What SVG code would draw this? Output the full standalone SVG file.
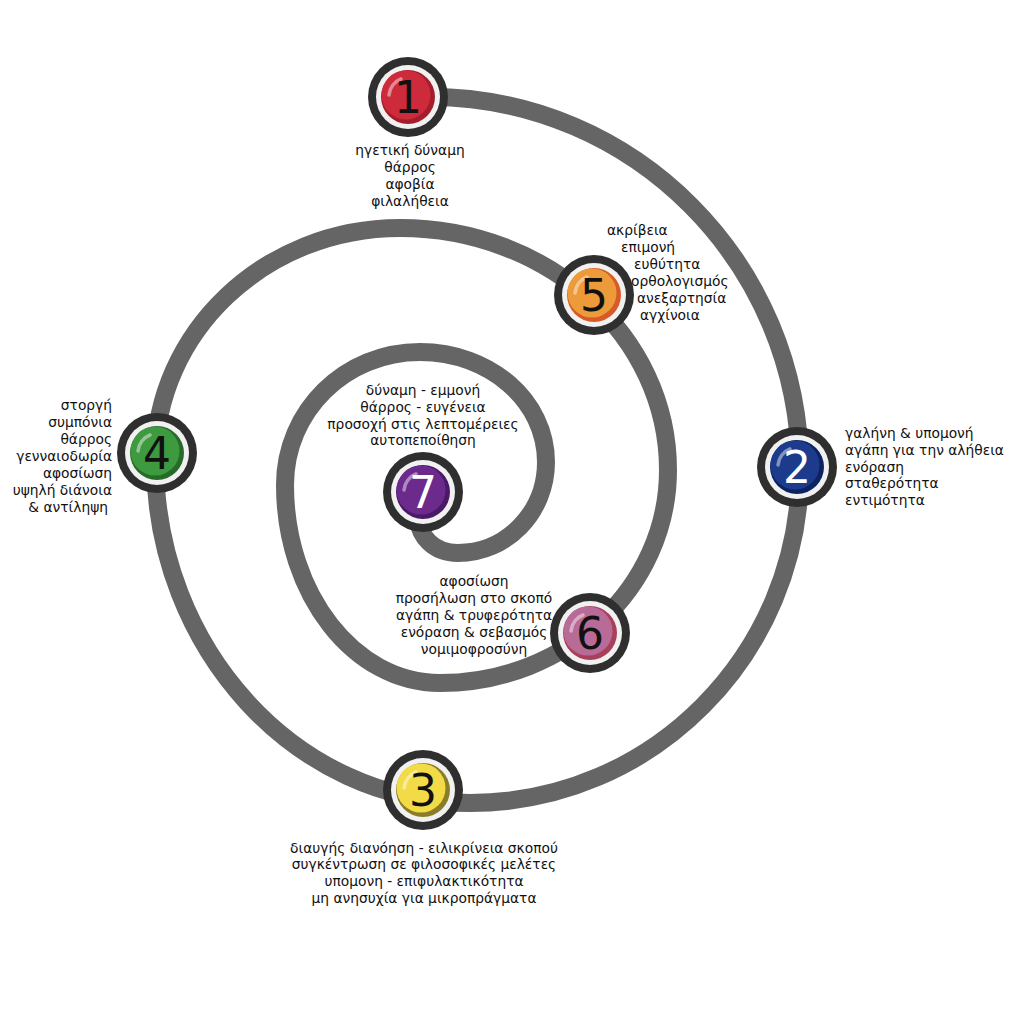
<svg xmlns="http://www.w3.org/2000/svg" width="1015" height="1015" viewBox="0 0 1015 1015">
<style>
.spiral{fill:none;stroke:#656565;stroke-width:18;stroke-linecap:round;stroke-linejoin:round}
.ring{fill:#2f2f2f}
.inner{fill:#f1f1f1}
.hl{fill:none;stroke:#ffffff;stroke-opacity:0.45;stroke-width:3.5;stroke-linecap:round}
.num{font-family:"DejaVu Sans",sans-serif;font-size:44px;text-anchor:middle}
.lbl{font-family:"DejaVu Sans",sans-serif;font-size:13.8px;fill:#111}
.c{text-anchor:middle}
.r{text-anchor:end}
</style>
<rect width="1015" height="1015" fill="#ffffff"/>
<g id="connectors">
<path class="spiral" d="M408 97 L430 97 C634 97 800 264 800 470 C800 654 652 803 470 803 C296 803 155 649 155 460 C155 332 265 228 400 228 C548 228 668 336 668 470 C668 588 566 683 440 683 C354 683 285 594 285 485 C285 411 345 352 420 352 C490 352 546 401 546 462 C546 512 507 553 458 553 C432 553 420 535 418 520"/>
</g>
<g id="node-1" transform="translate(408 97)">
<circle class="ring" r="40"/><circle class="inner" r="32"/>
<circle r="27" fill="#a31d2b"/><circle cx="-2" cy="-2" r="24.5" fill="#cd2a3b"/>
<path class="hl" d="M-19 -2 A19 19 0 0 1 -7 -18"/>
<text class="num" y="16" fill="#111">1</text>
</g>
<g id="node-2" transform="translate(797 467)">
<circle class="ring" r="40"/><circle class="inner" r="32"/>
<circle r="27" fill="#0d2361"/><circle cx="-2" cy="-2" r="24.5" fill="#1c3b8c"/>
<path class="hl" d="M-19 -2 A19 19 0 0 1 -7 -18"/>
<text class="num" y="16" fill="#ffffff">2</text>
</g>
<g id="node-3" transform="translate(423 790)">
<circle class="ring" r="40"/><circle class="inner" r="32"/>
<circle r="27" fill="#8a7d28"/><circle cx="-2" cy="-2" r="24.5" fill="#f2db46"/>
<path class="hl" d="M-19 -2 A19 19 0 0 1 -7 -18"/>
<text class="num" y="16" fill="#111">3</text>
</g>
<g id="node-4" transform="translate(157 453)">
<circle class="ring" r="40"/><circle class="inner" r="32"/>
<circle r="27" fill="#276b2a"/><circle cx="-2" cy="-2" r="24.5" fill="#3e9a3e"/>
<path class="hl" d="M-19 -2 A19 19 0 0 1 -7 -18"/>
<text class="num" y="16" fill="#111">4</text>
</g>
<g id="node-5" transform="translate(594 295)">
<circle class="ring" r="40"/><circle class="inner" r="32"/>
<circle r="27" fill="#d85a26"/><circle cx="-2" cy="-2" r="24.5" fill="#ec9a3a"/>
<path class="hl" d="M-19 -2 A19 19 0 0 1 -7 -18"/>
<text class="num" y="16" fill="#111">5</text>
</g>
<g id="node-6" transform="translate(590 633)">
<circle class="ring" r="40"/><circle class="inner" r="32"/>
<circle r="27" fill="#a8405c"/><circle cx="-2" cy="-2" r="24.5" fill="#b96b98"/>
<path class="hl" d="M-19 -2 A19 19 0 0 1 -7 -18"/>
<text class="num" y="16" fill="#111">6</text>
</g>
<g id="node-7" transform="translate(423 492)">
<circle class="ring" r="40"/><circle class="inner" r="32"/>
<circle r="27" fill="#4a1a68"/><circle cx="-2" cy="-2" r="24.5" fill="#6c2b8c"/>
<path class="hl" d="M-19 -2 A19 19 0 0 1 -7 -18"/>
<text class="num" y="16" fill="#ffffff">7</text>
</g>
<g id="labels">
<text class="lbl c" x="410" y="155">ηγετική δύναμη</text>
<text class="lbl c" x="410" y="172">θάρρος</text>
<text class="lbl c" x="410" y="189">αφοβία</text>
<text class="lbl c" x="410" y="206">φιλαλήθεια</text>
<text class="lbl" x="845" y="438">γαλήνη &amp; υπομονή</text>
<text class="lbl" x="845" y="455">αγάπη για την αλήθεια</text>
<text class="lbl" x="845" y="472">ενόραση</text>
<text class="lbl" x="845" y="488">σταθερότητα</text>
<text class="lbl" x="845" y="505">εντιμότητα</text>
<text class="lbl c" x="424" y="853">διαυγής διανόηση - ειλικρίνεια σκοπού</text>
<text class="lbl c" x="424" y="869">συγκέντρωση σε φιλοσοφικές μελέτες</text>
<text class="lbl c" x="424" y="886">υπομονη - επιφυλακτικότητα</text>
<text class="lbl c" x="424" y="903">μη ανησυχία για μικροπράγματα</text>
<text class="lbl r" x="112" y="410">στοργή</text>
<text class="lbl r" x="112" y="427">συμπόνια</text>
<text class="lbl r" x="112" y="444">θάρρος</text>
<text class="lbl r" x="112" y="461">γενναιοδωρία</text>
<text class="lbl r" x="112" y="478">αφοσίωση</text>
<text class="lbl r" x="112" y="495">υψηλή διάνοια</text>
<text class="lbl r" x="108" y="512">&amp; αντίληψη</text>
<text class="lbl" x="607" y="235">ακρίβεια</text>
<text class="lbl" x="621" y="252">επιμονή</text>
<text class="lbl" x="634" y="269">ευθύτητα</text>
<text class="lbl" x="631" y="286">ορθολογισμός</text>
<text class="lbl" x="637" y="303">ανεξαρτησία</text>
<text class="lbl" x="640" y="320">αγχίνοια</text>
<text class="lbl c" x="474" y="586">αφοσίωση</text>
<text class="lbl c" x="474" y="603">προσήλωση στο σκοπό</text>
<text class="lbl c" x="474" y="620">αγάπη &amp; τρυφερότητα</text>
<text class="lbl c" x="474" y="637">ενόραση &amp; σεβασμός</text>
<text class="lbl c" x="474" y="654">νομιμοφροσύνη</text>
<text class="lbl c" x="423" y="395">δύναμη - εμμονή</text>
<text class="lbl c" x="423" y="412">θάρρος - ευγένεια</text>
<text class="lbl c" x="423" y="429">προσοχή στις λεπτομέρειες</text>
<text class="lbl c" x="423" y="445">αυτοπεποίθηση</text>
</g>
</svg>
